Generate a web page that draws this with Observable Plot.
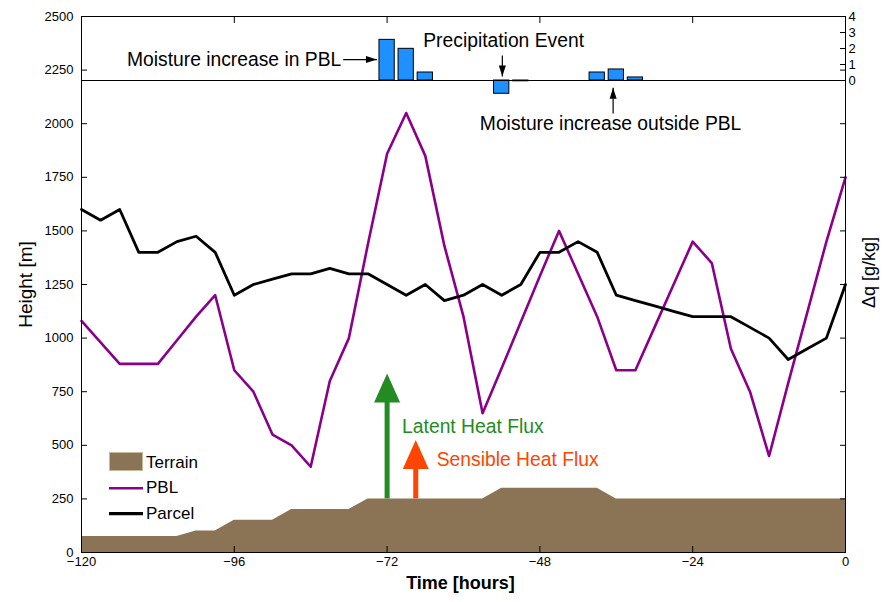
<!DOCTYPE html>
<html>
<head>
<meta charset="utf-8">
<script src="https://cdn.jsdelivr.net/npm/d3@7"></script>
<script src="https://cdn.jsdelivr.net/npm/@observablehq/plot@0.6"></script>
<style>
  body { margin: 0; background: #fff; }
  #chart { position: relative; width: 888px; height: 602px; }
  #chart svg { position: absolute; left: 0; top: 0; }
</style>
</head>
<body>
<div id="chart"></div>
<script>
// Time axis: 3-hourly samples over the five days before arrival
const hours = [-120, -117, -114, -111, -108, -105, -102, -99, -96, -93, -90, -87, -84, -81,
  -78, -75, -72, -69, -66, -63, -60, -57, -54, -51, -48, -45, -42, -39, -36, -33, -30,
  -27, -24, -21, -18, -15, -12, -9, -6, -3, 0];

// Planetary boundary layer height [m]
const pbl = [1080, 980, 880, 880, 880, 990, 1100, 1200, 850, 750, 550, 500, 400, 800,
  1000, 1440, 1860, 2050, 1850, 1430, 1100, 650, 860, 1075, 1290, 1500, 1300, 1100, 850,
  850, 1050, 1250, 1450, 1350, 950, 750, 450, 790, 1120, 1450, 1750];

// Parcel height [m]
const parcel = [1600, 1550, 1600, 1400, 1400, 1450, 1475, 1400, 1200, 1250, 1275, 1300,
  1300, 1325, 1300, 1300, 1250, 1200, 1250, 1175, 1200, 1250, 1200, 1250, 1400, 1400,
  1450, 1400, 1200, 1175, 1150, 1125, 1100, 1100, 1100, 1050, 1000, 900, 950, 1000, 1250];

// Terrain height under the parcel [m]
const terrain = [75, 75, 75, 75, 75, 75, 100, 100, 150, 150, 150, 200, 200, 200, 200,
  250, 250, 250, 250, 250, 250, 250, 300, 300, 300, 300, 300, 300, 250, 250, 250, 250,
  250, 250, 250, 250, 250, 250, 250, 250, 250];

// Specific humidity changes of the parcel [g/kg]
const dqHours = [-72, -69, -66, -54, -51, -39, -36, -33];
const dqValues = [2.54, 1.98, 0.5, -0.83, -0.05, 0.5, 0.69, 0.19];

// Surface fluxes drawn as arrows rising from the terrain at their times
const fluxLabels = ["Latent Heat Flux", "Sensible Heat Flux"];
const fluxHours = [-72, -67.5];
const fluxBases = [250, 250];
const fluxTops = [835, 525];
const fluxLabelHeights = [584, 432];

// Callouts on the humidity panel (time, g/kg)
const notes = [
  {text: "Moisture increase in PBL", tx: -79.2, ty: 1.31, anchor: "end",
   x1: -78.9, y1: 1.31, x2: -73.6, y2: 1.31, dir: 90},
  {text: "Precipitation Event", tx: -53.7, ty: 2.5, anchor: "middle",
   x1: -53.9, y1: 1.56, x2: -53.9, y2: 0.25, dir: 180},
  {text: "Moisture increase outside PBL", tx: -36.9, ty: -2.69, anchor: "middle",
   x1: -36.5, y1: -2.06, x2: -36.5, y2: -0.46, dir: 0}
];

// Tick values
const timeTicks = [-120, -96, -72, -48, -24, 0];
const heightTicks = [0, 250, 500, 750, 1000, 1250, 1500, 1750, 2000, 2250, 2500];
const dqTicks = [0, 1, 2, 3, 4];

// Styling
const font = '"Liberation Sans", Arial, Helvetica, sans-serif';
const terrainColor = "#8b7355";
const pblColor = "#8b008b";
const parcelColor = "#000000";
const barColor = "#1e90ff";
const fluxColors = ["#228b22", "#ff4500"];
const fluxLabelDx = [15, 21];
const noteSize = 19.3;
const W = 888, H = 602;
const margins = {marginTop: 16, marginRight: 43, marginBottom: 50, marginLeft: 81};
const svgStyle = {fontFamily: font, color: "#000", background: "transparent", overflow: "visible"};

// Filled triangular arrow head with its tip at the anchor point, pointing up
const head = (w, h) => ({
  draw(ctx) { ctx.moveTo(0, 0); ctx.lineTo(w / 2, h); ctx.lineTo(-w / 2, h); ctx.closePath(); }
});
const bigHead = head(26, 29);
const smallHead = head(7, 11);

const fluxMarks = fluxLabels.flatMap((label, i) => {
  const d = [{t: fluxHours[i], base: fluxBases[i], top: fluxTops[i], ly: fluxLabelHeights[i], label}];
  return [
    // shaft stops under the head so the narrow tip stays clean
    Plot.ruleX(d, {x: "t", y1: "top", y2: "base", stroke: fluxColors[i], strokeWidth: 5, insetTop: 14}),
    Plot.dot(d, {x: "t", y: "top", symbol: bigHead, r: 1, fill: fluxColors[i], stroke: "none"}),
    Plot.text(d, {x: "t", y: "ly", text: "label", dx: fluxLabelDx[i], textAnchor: "start",
      fill: fluxColors[i], fontSize: noteSize})
  ];
});

const main = Plot.plot({
  width: W, height: H, ...margins,
  style: svgStyle,
  x: {domain: [-120, 0], label: null, axis: null},
  y: {domain: [0, 2500], label: null, axis: null},
  marks: [
    Plot.areaY(terrain, {x: hours, y: terrain, fill: terrainColor}),
    Plot.line(pbl, {x: hours, y: pbl, stroke: pblColor, strokeWidth: 2.6}),
    Plot.line(parcel, {x: hours, y: parcel, stroke: parcelColor, strokeWidth: 2.8}),
    ...fluxMarks,
    Plot.axisX({anchor: "bottom", ticks: timeTicks, tickSize: -6, tickPadding: 10,
      fontSize: 13, label: null, tickFormat: d3.format("d")}),
    Plot.axisX({anchor: "top", ticks: timeTicks, tickSize: -6, label: null, tickFormat: () => ""}),
    Plot.axisY({anchor: "left", ticks: heightTicks, tickSize: -6, tickPadding: 14,
      fontSize: 13, label: null, tickFormat: d3.format("d")}),
    Plot.axisY({anchor: "right", ticks: heightTicks, tickSize: -6, label: null, tickFormat: () => ""}),
    Plot.frame({stroke: "#000"}),
    Plot.text(["Height [m]"], {text: d => d, frameAnchor: "left", textAnchor: "middle",
      dx: -56, rotate: -90, fontSize: 19}),
    Plot.text(["Time [hours]"], {text: d => d, frameAnchor: "bottom", textAnchor: "middle",
      dx: -3, dy: 36, fontSize: 18, fontWeight: "bold"}),
    Plot.text(["\u0394q [g/kg]"], {text: d => d, frameAnchor: "right", textAnchor: "middle",
      dx: 24, dy: -12, rotate: -90, fontSize: 18})
  ]
});

// Humidity panel laid over the top of the height axes
const noteMarks = notes.flatMap(n => [
  Plot.text([n], {x: "tx", y: "ty", text: "text", textAnchor: n.anchor, fontSize: noteSize}),
  Plot.link([n], {x1: "x1", y1: "y1", x2: "x2", y2: "y2", stroke: "#000", strokeWidth: 1.2}),
  Plot.dot([n], {x: "x2", y: "y2", symbol: smallHead, r: 1, rotate: n.dir, fill: "#000", stroke: "none"})
]);

const humid = Plot.plot({
  width: W, height: 100, marginTop: 16, marginBottom: 20, marginLeft: 81, marginRight: 43,
  style: svgStyle,
  x: {domain: [-120, 0], label: null, axis: null},
  y: {domain: [0, 4], label: null, axis: null},
  marks: [
    Plot.rect(dqValues, {x1: dqHours.map(t => t - 1.2), x2: dqHours.map(t => t + 1.2),
      y1: 0, y2: dqValues, fill: barColor, stroke: "#000", strokeWidth: 1}),
    Plot.ruleY([0], {stroke: "#000"}),
    Plot.axisY({anchor: "right", ticks: dqTicks, tickSize: -6, tickPadding: 9,
      fontSize: 13, label: null, tickFormat: d3.format("d")}),
    ...noteMarks
  ]
});

// Legend
const legendItems = [
  {label: "Terrain", kind: "area", color: terrainColor},
  {label: "PBL", kind: "line", color: pblColor, width: 2.6},
  {label: "Parcel", kind: "line", color: parcelColor, width: 3.4}
];
const legend = d3.create("svg").attr("width", W).attr("height", H)
  .style("font-family", font).style("overflow", "visible");
const lg = legend.append("g").attr("transform", "translate(109,461)");
legendItems.forEach((d, i) => {
  const g = lg.append("g").attr("transform", `translate(0,${i * 25.3})`);
  if (d.kind === "area") {
    g.append("rect").attr("x", 0.5).attr("y", -8.5).attr("width", 33).attr("height", 18)
      .attr("fill", d.color).attr("stroke", "#c9b99c").attr("stroke-width", 1);
  } else {
    g.append("line").attr("x1", 0).attr("x2", 34).attr("y1", 2).attr("y2", 2)
      .attr("stroke", d.color).attr("stroke-width", d.width);
  }
  g.append("text").attr("x", 37).attr("y", 1).attr("dy", "0.35em")
    .attr("font-size", 17).attr("fill", "#000").text(d.label);
});

const root = document.getElementById("chart");
root.append(main, humid, legend.node());
</script>
</body>
</html>
